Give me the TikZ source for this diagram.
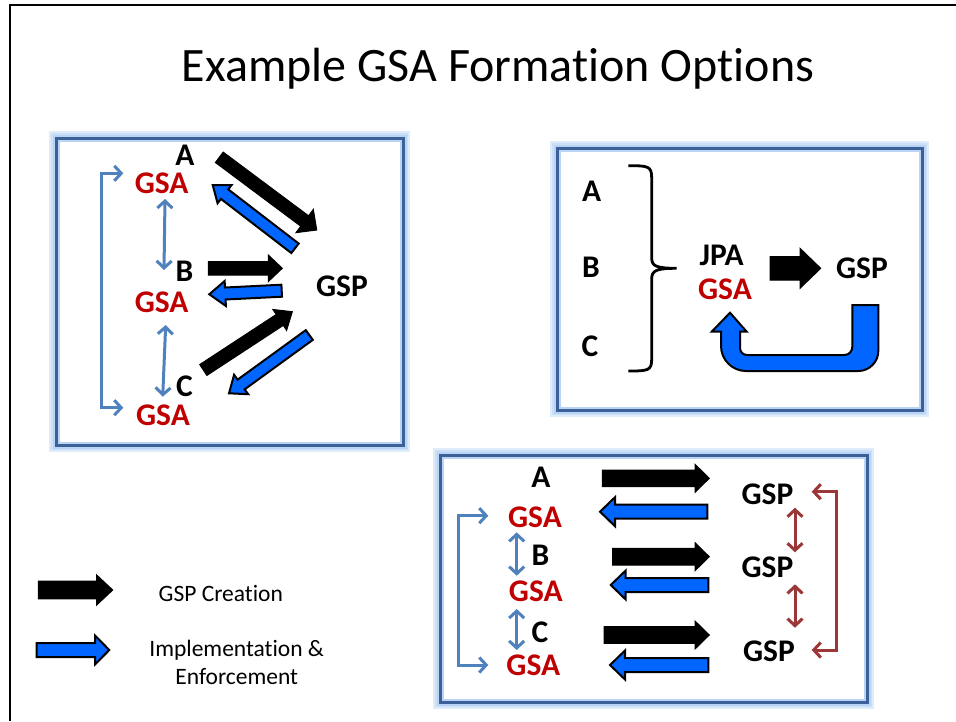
\documentclass[tikz,border=0pt]{standalone}
\usepackage{fontspec}
\setmainfont{Carlito}[Ligatures=NoCommon]
\usetikzlibrary{arrows.meta,calc}
\definecolor{gsared}{RGB}{192,0,0}
\definecolor{implblue}{RGB}{0,102,255}
\definecolor{linkblue}{RGB}{79,129,189}
\definecolor{linkbrown}{RGB}{155,55,55}
\definecolor{paneledge}{RGB}{60,97,152}
\definecolor{panelglow}{RGB}{185,212,245}

% block arrow: #1 style, #2 from, #3 to, #4 shaft half width, #5 head half width, #6 head length
\newcommand{\barrow}[6]{%
  \coordinate (bab) at ($(#3)!#6!(#2)$);
  \draw[#1] ($(#2)!#4!90:(#3)$) -- ($(bab)!#4!90:(#3)$) -- ($(bab)!#5!90:(#3)$) -- (#3)
    -- ($(bab)!#5!-90:(#3)$) -- ($(bab)!#4!-90:(#3)$) -- ($(#2)!#4!-90:(#3)$) -- cycle;}

\tikzset{
  panel/.style={draw=paneledge, line width=3pt, inner sep=0pt,
    preaction={draw=panelglow!45, line width=14pt},
    preaction={draw=panelglow!75, line width=10pt},
    preaction={fill=white, draw=panelglow, line width=7pt}},
  lbl/.style={font=\fontsize{31.5}{38}\selectfont\bfseries, inner sep=0pt},
  gsa/.style={lbl, text=gsared},
  legendtxt/.style={font=\fontsize{23.5}{28.5}\selectfont, inner sep=0pt, align=center},
  creation/.style={fill=black, draw=black, line width=1pt, line join=miter},
  impl/.style={fill=implblue, draw=black, line width=2pt, line join=miter},
  link/.style={draw=linkblue, line width=3pt, {Straight Barb[length=7pt,width=15pt]}-{Straight Barb[length=7pt,width=15pt]}},
  brownlink/.style={draw=linkbrown, line width=3pt, {Straight Barb[length=7pt,width=15pt]}-{Straight Barb[length=7pt,width=15pt]}},
  bracebar/.style={draw=black, line width=2.8pt},
  uturn/.style={fill=implblue, draw=black, line width=2pt, line join=miter}
}

\begin{document}
\begin{tikzpicture}[x=1pt,y=-1pt]
\useasboundingbox (0,0) rectangle (956,721);
\fill[white] (0,0) rectangle (956,721);
\draw[line width=2pt] (10,721) -- (10,5) -- (956,5);

\node[font=\fontsize{48}{56}\selectfont, inner sep=0pt, anchor=base] (title) at (498,81) {Example GSA Formation Options};

% panels
\node[panel, minimum width=347pt, minimum height=307pt] (panelA) at (229.5,291.5) {};
\node[panel, minimum width=365pt, minimum height=262pt] (panelB) at (739.5,279) {};
\node[panel, minimum width=427pt, minimum height=247pt] (panelC) at (653.5,578.5) {};

% ---------- panel A ----------
\node[lbl] (a1) at (185,155.5) {A};
\node[gsa] (g1a) at (161.7,183.5) {GSA};
\node[lbl] (b1) at (184.5,271) {B};
\node[gsa] (g1b) at (161.7,302.5) {GSA};
\node[lbl] (c1) at (184.5,386) {C};
\node[gsa] (g1c) at (163,415) {GSA};
\node[lbl] (p1) at (342,286.7) {GSP};

\coordinate (k1s) at (219.3,157.3); \coordinate (k1e) at (316.7,230);
\coordinate (i1s) at (295,248.3);   \coordinate (i1e) at (212.7,185);
\coordinate (k2s) at (208.3,268.3); \coordinate (k2e) at (282.3,268.3);
\coordinate (i2s) at (281.7,290.7); \coordinate (i2e) at (209.3,294.3);
\coordinate (k3s) at (203.3,370);   \coordinate (k3e) at (292.3,311.7);
\coordinate (i3s) at (309.3,335);   \coordinate (i3e) at (229,393.3);
\barrow{creation}{k1s}{k1e}{6.5pt}{14.5pt}{15pt}
\barrow{impl}{i1s}{i1e}{6pt}{11.5pt}{15pt}
\barrow{creation}{k2s}{k2e}{6.7pt}{13.3pt}{14pt}
\barrow{impl}{i2s}{i2e}{6pt}{12.5pt}{16pt}
\barrow{creation}{k3s}{k3e}{6.5pt}{12.5pt}{15pt}
\barrow{impl}{i3s}{i3e}{6pt}{12pt}{15pt}

\coordinate (d1a) at (165,199);     \coordinate (d1b) at (164,270);
\coordinate (d2a) at (165.7,325);   \coordinate (d2b) at (162.7,396.7);
\draw[link] (d1a) -- (d1b);
\draw[link] (d2a) -- (d2b);
\coordinate (ba1) at (123.3,173.3); \coordinate (ba2) at (123.3,407.7);
\draw[link] (ba1) -- ++(-21.6,0) |- (ba2);

% ---------- panel B ----------
\node[lbl] (a2) at (591.7,190.8) {A};
\node[lbl] (b2) at (591,267.5) {B};
\node[lbl] (c2) at (590,346) {C};
\node[lbl] (jpa) at (721.7,255.8) {JPA};
\node[gsa] (g2) at (725,289) {GSA};
\node[lbl] (p2) at (862,268.3) {GSP};

\draw[bracebar] (628.3,165.7) .. controls (648,165.7) and (651.7,166) .. (651.7,178)
  -- (651.7,258) .. controls (651.7,266) and (656,268.3) .. (676.7,268.3)
  .. controls (656,268.3) and (651.7,270.6) .. (651.7,279)
  -- (651.7,359) .. controls (651.7,370.7) and (648,371) .. (628.3,371);

\coordinate (k4s) at (770,268.3); \coordinate (k4e) at (820.7,268.3);
\barrow{creation}{k4s}{k4e}{11.7pt}{20pt}{20.7pt}

\draw[uturn] (852.3,305) -- (878.3,305) -- (878.3,351)
  .. controls (878.3,362) and (869.3,371) .. (858.3,371)
  -- (746,371) .. controls (732.25,371) and (721,359.75) .. (721,346)
  -- (721,331.7) -- (711.7,331.7) -- (730,312.7) -- (746.7,331.7) -- (740,331.7)
  -- (740,348) .. controls (740,351.9) and (743.1,355) .. (747,355)
  -- (844.3,355) .. controls (848.7,355) and (852.3,351.4) .. (852.3,347) -- cycle;

% ---------- panel C ----------
\node[lbl] (a3) at (541,477.5) {A};
\node[gsa] (g3a) at (535,517) {GSA};
\node[lbl] (b3) at (540.5,555) {B};
\node[gsa] (g3b) at (535.8,591) {GSA};
\node[lbl] (c3) at (540,632) {C};
\node[gsa] (g3c) at (533.3,665.5) {GSA};
\node[lbl] (p3a) at (767.5,494) {GSP};
\node[lbl] (p3b) at (767.5,567.5) {GSP};
\node[lbl] (p3c) at (769,650.8) {GSP};

\coordinate (k5s) at (602.3,478.3); \coordinate (k5e) at (709.3,478.3);
\coordinate (k6s) at (612.7,556.7); \coordinate (k6e) at (709.3,556.7);
\coordinate (k7s) at (604,635);     \coordinate (k7e) at (709.3,635);
\coordinate (i5s) at (707.3,511.7); \coordinate (i5e) at (600,511.7);
\coordinate (i6s) at (708.3,585);   \coordinate (i6e) at (610.7,585);
\coordinate (i7s) at (708.3,665);   \coordinate (i7e) at (610,665);
\barrow{creation}{k5s}{k5e}{8.3pt}{14pt}{14.3pt}
\barrow{creation}{k6s}{k6e}{8.3pt}{14pt}{14.3pt}
\barrow{creation}{k7s}{k7e}{8.3pt}{14pt}{14.3pt}
\barrow{impl}{i5s}{i5e}{7pt}{14.5pt}{15pt}
\barrow{impl}{i6s}{i6e}{7pt}{14.5pt}{15pt}
\barrow{impl}{i7s}{i7e}{7pt}{14.5pt}{15pt}

\coordinate (d3a) at (516.7,532.3); \coordinate (d3b) at (516.7,575.7);
\coordinate (d4a) at (516.7,609);   \coordinate (d4b) at (516.7,650);
\draw[link] (d3a) -- (d3b);
\draw[link] (d4a) -- (d4b);
\coordinate (bc1) at (488.3,515.7); \coordinate (bc2) at (488.3,665);
\draw[link] (bc1) -- ++(-30,0) |- (bc2);

\coordinate (e1a) at (795,507.7);   \coordinate (e1b) at (795,552.3);
\coordinate (e2a) at (795,584.3);   \coordinate (e2b) at (795,627.7);
\draw[brownlink] (e1a) -- (e1b);
\draw[brownlink] (e2a) -- (e2b);
\coordinate (bd1) at (811.7,491.7); \coordinate (bd2) at (811.7,650);
\draw[brownlink] (bd1) -- ++(25,0) |- (bd2);

% ---------- legend ----------
\coordinate (lks) at (38.3,590);  \coordinate (lke) at (112.7,590);
\coordinate (lis) at (36.7,650);  \coordinate (lie) at (109.3,650);
\barrow{creation}{lks}{lke}{8.8pt}{15pt}{16pt}
\barrow{impl}{lis}{lie}{7pt}{14.5pt}{14.3pt}
\node[legendtxt] (lt1) at (220.8,593.3) {GSP Creation};
\node[legendtxt] (lt2) at (236.7,662.5) {Implementation \&\\Enforcement};
\end{tikzpicture}
\end{document}
